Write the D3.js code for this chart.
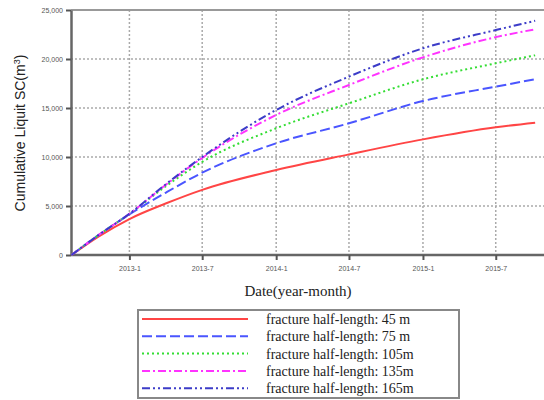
<!DOCTYPE html>
<html>
<head>
<meta charset="utf-8">
<script src="https://cdn.jsdelivr.net/npm/d3@7"></script>
<style>
  body { margin: 0; background: #fff; }
  svg { display: block; }
</style>
</head>
<body>
<svg id="chart"></svg>
<script>
// data
const dates = ["2012-08-10", "2012-10-15", "2013-01-01", "2013-04-01", "2013-07-01",
    "2014-01-01", "2014-07-01", "2015-01-01", "2015-07-01", "2015-10-07"];
const fl45 = [0, 1850, 3670, 5250, 6650, 8670, 10270, 11800, 13030, 13500];
const fl75 = [0, 2000, 4150, 6350, 8400, 11400, 13440, 15710, 17180, 17930];
const fl105 = [0, 2000, 4200, 7000, 9500, 12930, 15480, 17930, 19560, 20380];
const fl135 = [0, 2000, 4200, 7150, 9900, 14290, 17350, 20170, 22230, 23030];
const fl165 = [0, 2000, 4200, 7200, 10000, 14800, 18200, 21090, 22950, 23900];
const seriesNames = ["fracture half-length: 45 m", "fracture half-length: 75 m",
    "fracture half-length: 105m", "fracture half-length: 135m", "fracture half-length: 165m"];
const xTicks = ["2013-1", "2013-7", "2014-1", "2014-7", "2015-1", "2015-7"];
const yTicks = [0, 5000, 10000, 15000, 20000, 25000];

const width = 544;
const height = 400;
const margin = { top: 10, right: 0, bottom: 145, left: 71 };

const parse = d3.timeParse("%Y-%m-%d");
const tickParse = d3.timeParse("%Y-%m");

const svg = d3.select("#chart")
    .attr("width", width)
    .attr("height", height);

const xScale = d3.scaleTime()
    .domain([parse("2012-08-10"), parse("2015-10-29")])
    .range([margin.left + 0.5, width - margin.right]);

const yScale = d3.scaleLinear()
    .domain([0, 25000])
    .range([height - margin.bottom, margin.top]);

const styles = [
    { color: "#ff4545", dash: null },
    { color: "#4a55ff", dash: "10,4" },
    { color: "#33dd33", dash: "2,3" },
    { color: "#ff33ff", dash: "8,3,2,3" },
    { color: "#3c3cc8", dash: "8,3,2,3,2,3" }
];
const allSeries = [fl45, fl75, fl105, fl135, fl165];

// grid lines
svg.append("g")
    .attr("class", "grid-lines")
    .selectAll("line.x-line")
    .data(xTicks)
    .enter().append("line")
    .attr("x1", d => xScale(tickParse(d)))
    .attr("x2", d => xScale(tickParse(d)))
    .attr("y1", margin.top)
    .attr("y2", height - margin.bottom)
    .style("stroke", "#aaa")
    .style("stroke-width", 1.5)
    .style("stroke-dasharray", "2,2");

svg.append("g")
    .attr("class", "grid-lines")
    .selectAll("line.y-line")
    .data(yTicks.slice(1, -1))
    .enter().append("line")
    .attr("x1", margin.left)
    .attr("x2", width - margin.right)
    .attr("y1", d => yScale(d))
    .attr("y2", d => yScale(d))
    .style("stroke", "#aaa")
    .style("stroke-width", 1.5)
    .style("stroke-dasharray", "2,2");

// top border
svg.append("line")
    .attr("x1", margin.left)
    .attr("x2", width)
    .attr("y1", yScale(25000))
    .attr("y2", yScale(25000))
    .style("stroke", "#999")
    .style("stroke-width", 2);

// axes
svg.append("g")
    .attr("class", "x-axis")
    .attr("transform", `translate(0, ${height - margin.bottom})`)
    .call(d3.axisBottom(xScale)
        .tickValues(xTicks.map(tickParse))
        .tickFormat(d3.timeFormat("%Y-%-m"))
        .tickSize(5)
        .tickSizeOuter(0));

svg.append("g")
    .attr("class", "y-axis")
    .attr("transform", `translate(${margin.left}, 0)`)
    .call(d3.axisLeft(yScale)
        .tickValues(yTicks)
        .tickFormat(d3.format(","))
        .tickSize(5)
        .tickSizeOuter(0));

svg.selectAll(".x-axis .domain")
    .attr("d", `M${margin.left},0H${width}`);

svg.selectAll(".domain")
    .style("stroke", "#666")
    .style("stroke-width", 2.5);
svg.selectAll(".tick line")
    .style("stroke", "#555")
    .style("stroke-width", 2);
svg.selectAll(".tick text")
    .style("fill", "#555")
    .style("font-family", "Liberation Sans, Arial, sans-serif")
    .style("font-size", "7px");
svg.selectAll(".x-axis .tick text").attr("dy", "1.2em");

// lines
const line = d3.line()
    .x((d, i) => xScale(parse(dates[i])))
    .y(d => yScale(d))
    .curve(d3.curveMonotoneX);

svg.append("g")
    .selectAll("path.series")
    .data(allSeries)
    .enter().append("path")
    .attr("class", "series")
    .attr("d", d => line(d))
    .attr("fill", "none")
    .attr("stroke", (d, i) => styles[i].color)
    .attr("stroke-width", 2)
    .attr("stroke-dasharray", (d, i) => styles[i].dash);

// axis titles
svg.append("text")
    .attr("x", 298)
    .attr("y", 296)
    .attr("text-anchor", "middle")
    .style("font-family", "Liberation Serif, Times New Roman, serif")
    .style("font-size", "15px")
    .style("fill", "#222")
    .text("Date(year-month)");

const yTitle = svg.append("text")
    .attr("transform", "translate(25, 133) rotate(-90)")
    .attr("text-anchor", "middle")
    .style("font-family", "Liberation Sans Narrow, Liberation Sans, Arial, sans-serif")
    .style("font-size", "14px")
    .style("fill", "#222");
yTitle.append("tspan").text("Cumulative Liquit SC(m");
yTitle.append("tspan").attr("dy", "-5").style("font-size", "9px").text("3");
yTitle.append("tspan").attr("dy", "5").text(")");

// legend
const legend = svg.append("g").attr("class", "legend");
legend.append("rect")
    .attr("x", 138)
    .attr("y", 310)
    .attr("width", 321)
    .attr("height", 88)
    .attr("fill", "#fff")
    .attr("stroke", "#888")
    .attr("stroke-width", 2);

const rows = legend.selectAll("g.row")
    .data(seriesNames)
    .enter().append("g")
    .attr("class", "row")
    .attr("transform", (d, i) => `translate(0, ${319 + i * 17.3})`);

rows.append("line")
    .attr("x1", 142)
    .attr("x2", 248)
    .attr("stroke", (d, i) => styles[i].color)
    .attr("stroke-width", 2)
    .attr("stroke-dasharray", (d, i) => styles[i].dash);

rows.append("text")
    .attr("x", 266)
    .attr("dy", "0.35em")
    .style("font-family", "Liberation Serif, Times New Roman, serif")
    .style("font-size", "14px")
    .style("fill", "#222")
    .text(d => d);
</script>
</body>
</html>
